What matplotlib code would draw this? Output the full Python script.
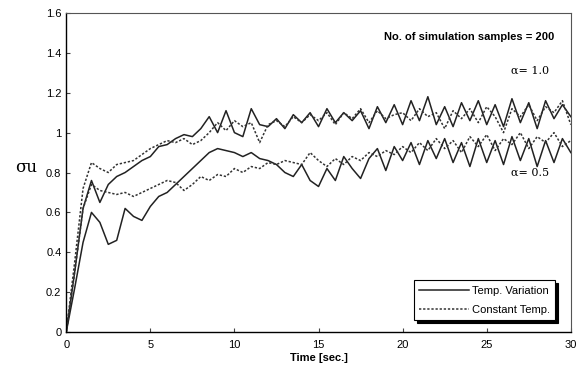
import numpy as np
import matplotlib.pyplot as plt

# time axis (sec.) - one reading every 0.5 s
time = np.arange(0, 30.5, 0.5)

# alpha = 1.0, temperature variation (solid)
a10_temp_var = [0.00, 0.30, 0.62, 0.76, 0.65, 0.74, 0.78, 0.80, 0.83, 0.86,
                0.88, 0.93, 0.94, 0.97, 0.99, 0.98, 1.02, 1.08, 1.00, 1.11,
                1.00, 0.98, 1.12, 1.04, 1.03, 1.07, 1.02, 1.09, 1.05, 1.10,
                1.03, 1.12, 1.05, 1.10, 1.06, 1.11, 1.02, 1.13, 1.05, 1.14,
                1.04, 1.16, 1.06, 1.18, 1.04, 1.13, 1.03, 1.15, 1.06, 1.16,
                1.04, 1.14, 1.03, 1.17, 1.05, 1.15, 1.02, 1.16, 1.07, 1.14,
                1.08]
# alpha = 1.0, constant temperature (dotted)
a10_const = [0.00, 0.35, 0.72, 0.85, 0.82, 0.80, 0.84, 0.85, 0.86, 0.89,
             0.92, 0.94, 0.96, 0.95, 0.97, 0.94, 0.96, 1.00, 1.05, 1.01,
             1.06, 1.03, 1.05, 0.95, 1.04, 1.06, 1.03, 1.08, 1.05, 1.09,
             1.06, 1.10, 1.04, 1.10, 1.07, 1.12, 1.05, 1.11, 1.07, 1.09,
             1.10, 1.06, 1.12, 1.08, 1.10, 1.02, 1.11, 1.07, 1.12, 1.05,
             1.13, 1.08, 1.00, 1.12, 1.08, 1.14, 1.06, 1.13, 1.10, 1.16,
             1.04]
# alpha = 0.5, temperature variation (solid)
a05_temp_var = [0.00, 0.22, 0.45, 0.60, 0.55, 0.44, 0.46, 0.62, 0.58, 0.56,
                0.63, 0.68, 0.70, 0.74, 0.78, 0.82, 0.86, 0.90, 0.92, 0.91,
                0.90, 0.88, 0.90, 0.87, 0.86, 0.84, 0.80, 0.78, 0.84, 0.76,
                0.73, 0.82, 0.76, 0.88, 0.82, 0.77, 0.87, 0.92, 0.81, 0.93,
                0.86, 0.95, 0.84, 0.96, 0.87, 0.97, 0.85, 0.95, 0.83, 0.97,
                0.85, 0.96, 0.84, 0.98, 0.86, 0.97, 0.83, 0.96, 0.85, 0.97,
                0.90]
# alpha = 0.5, constant temperature (dotted)
a05_const = [0.00, 0.30, 0.62, 0.74, 0.71, 0.70, 0.69, 0.70, 0.68, 0.70,
             0.72, 0.74, 0.76, 0.75, 0.71, 0.74, 0.78, 0.76, 0.79, 0.78,
             0.82, 0.80, 0.83, 0.82, 0.85, 0.84, 0.86, 0.85, 0.84, 0.90,
             0.86, 0.83, 0.87, 0.84, 0.88, 0.86, 0.90, 0.88, 0.91, 0.89,
             0.93, 0.90, 0.95, 0.91, 0.97, 0.92, 0.96, 0.90, 0.98, 0.93,
             0.99, 0.91, 0.97, 0.94, 1.00, 0.92, 0.98, 0.95, 1.00, 0.93,
             0.96]

x_ticks = [0, 5, 10, 15, 20, 25, 30]
y_ticks = [0, 0.2, 0.4, 0.6, 0.8, 1.0, 1.2, 1.4, 1.6]
y_labels = ['0', '0.2', '0.4', '0.6', '0.8', '1', '1.2', '1.4', '1.6']

plt.rcParams['font.family'] = ['Liberation Sans', 'DejaVu Sans']

fig = plt.figure(figsize=(5.76, 3.80), dpi=100)
ax = fig.add_axes([0.115, 0.126, 0.876, 0.840])

dotted = (0, (1.5, 1.2))
ax.plot(time, a10_temp_var, color='#222222', lw=1.1, label='Temp. Variation')
ax.plot(time, a10_const, color='#333333', lw=1.1, linestyle=dotted, label='Constant Temp.')
ax.plot(time, a05_temp_var, color='#222222', lw=1.1)
ax.plot(time, a05_const, color='#333333', lw=1.1, linestyle=dotted)

ax.set_xlim(0, 30)
ax.set_ylim(0, 1.6)
ax.set_xticks(x_ticks)
ax.set_yticks(y_ticks)
ax.set_yticklabels(y_labels)
ax.tick_params(direction='in', length=3, labelsize=8, color='#444444')
ax.tick_params(axis='x', pad=6)

for side in ['top', 'right']:
    ax.spines[side].set_color('#555555')
    ax.spines[side].set_linewidth(0.8)
for side in ['left', 'bottom']:
    ax.spines[side].set_linewidth(1.0)

ax.set_xlabel('Time [sec.]', fontsize=8, fontweight='bold', labelpad=2)
ax.set_ylabel('σu', fontsize=12, family='DejaVu Serif', rotation=0, labelpad=14)
ax.yaxis.set_label_coords(-0.08, 0.49)

ax.text(29.0, 1.48, 'No. of simulation samples = 200', fontsize=8, fontweight='bold',
        ha='right', va='center')
ax.text(27.6, 1.31, 'α= 1.0', fontsize=8, family='DejaVu Serif', ha='center', va='center')
ax.text(27.6, 0.80, 'α= 0.5', fontsize=8, family='DejaVu Serif', ha='center', va='center')

leg = ax.legend(loc='lower right', bbox_to_anchor=(0.98, 0.02), fontsize=8,
                handlelength=4.5, fancybox=False, frameon=True, edgecolor='black',
                borderpad=0.5, labelspacing=0.8, handletextpad=0.2,
                shadow={'color': 'black', 'alpha': 1.0})
leg.get_frame().set_linewidth(0.8)

plt.savefig('out.png', dpi=100)
plt.close()
